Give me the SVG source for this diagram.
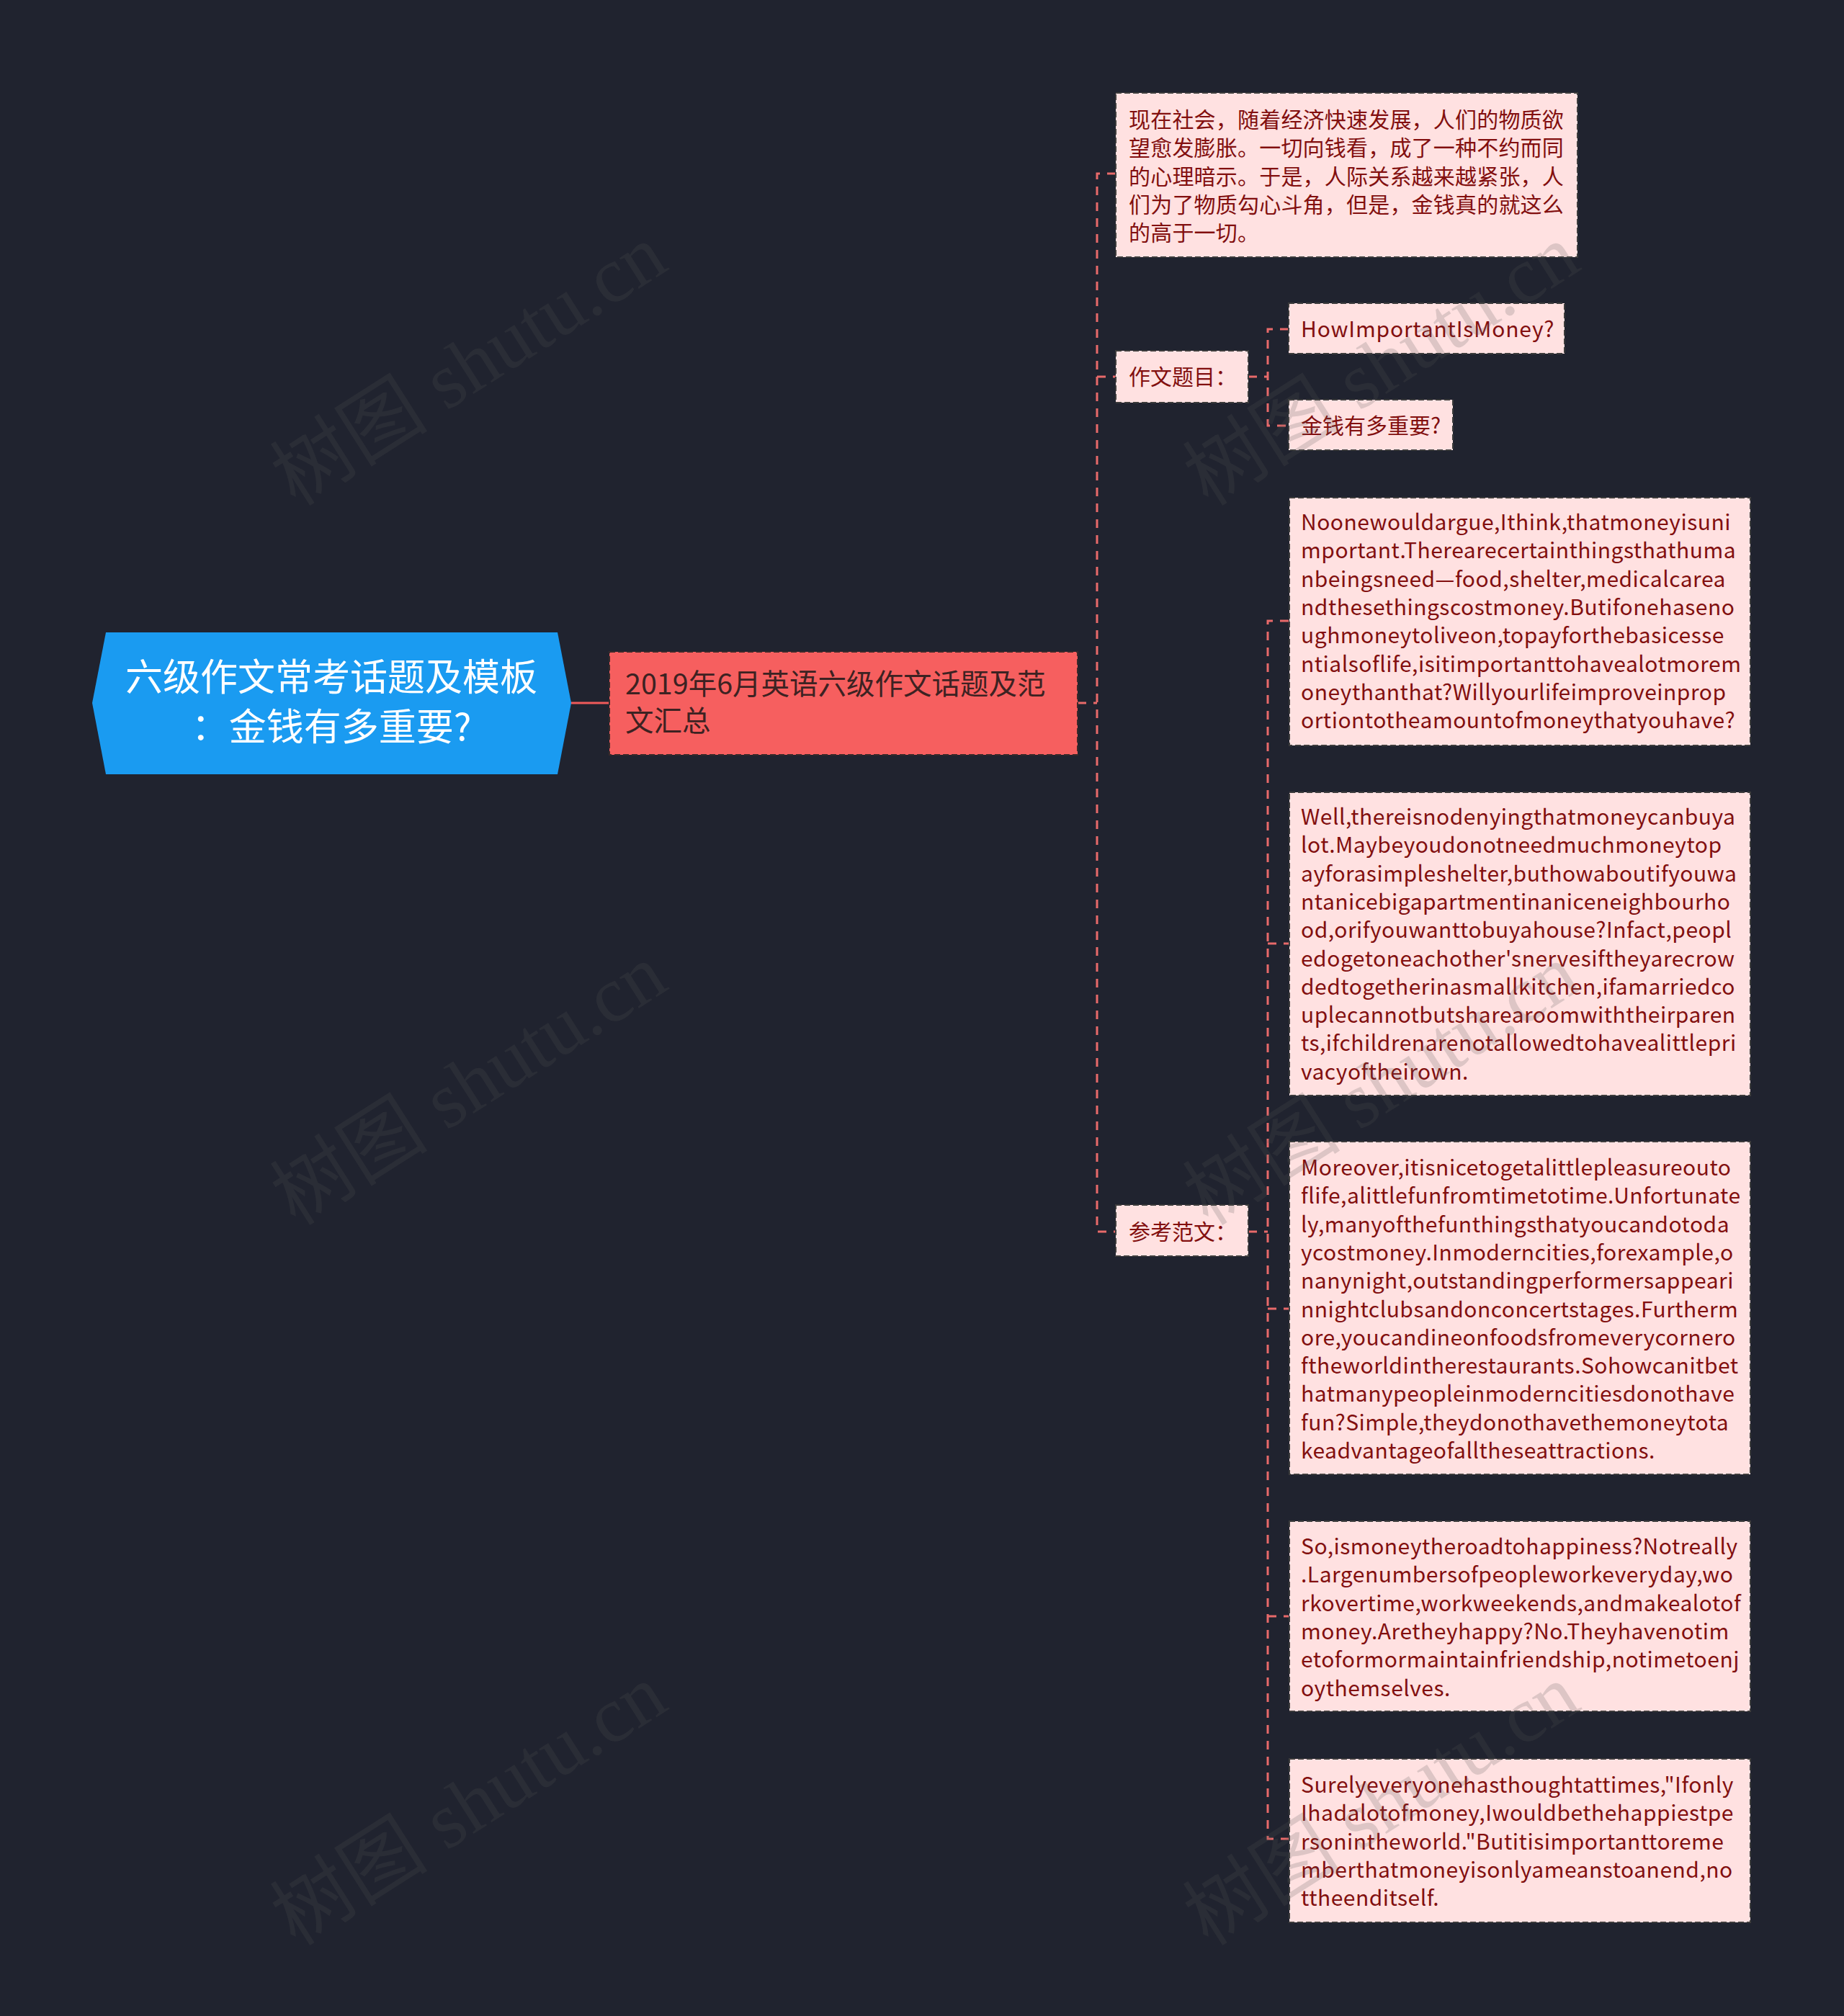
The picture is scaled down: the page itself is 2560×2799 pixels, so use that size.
<svg xmlns="http://www.w3.org/2000/svg" width="2560" height="2799" viewBox="0 0 2560 2799">
<style>
.bg{fill:#20232f}
.box{fill:#ffe1e1;stroke:#3c3c3c;stroke-width:2;stroke-dasharray:8 4}
.t{font-family:"Noto Sans CJK SC","Noto Sans",sans-serif;font-size:30px;fill:#820f0f}
.e{letter-spacing:0.5px}
.con{fill:none;stroke:#e86a6a;stroke-width:3;stroke-dasharray:12 10}
.wm{font-family:"Liberation Serif","Noto Sans CJK SC",serif;font-size:110px;fill:#555555;fill-opacity:0.2}
</style>
<rect class="bg" x="0" y="0" width="2560" height="2799"/>
<g id="connectors">
<line x1="793" y1="976" x2="846" y2="976" stroke="#f05a5a" stroke-width="3"/>
<path class="con" d="M1496,976 H1523"/>
<path class="con" d="M1549,241 H1523 V1710 H1549"/>
<path class="con" d="M1523,523 H1549"/>
<path class="con" d="M1733,523 H1760"/>
<path class="con" d="M1789,457 H1760 V591 H1789"/>
<path class="con" d="M1733,1710 H1760"/>
<path class="con" d="M1789,862 H1760 V2553 H1789"/>
<path class="con" d="M1760,1310 H1789"/>
<path class="con" d="M1760,1817 H1789"/>
<path class="con" d="M1760,2244 H1789"/>
</g>
<g id="root">
<polygon points="128,976 147,878 774,878 793,976 774,1075 147,1075" fill="#1a9bf1"/>
<text font-family="Noto Sans CJK SC,sans-serif" font-size="52" fill="#ffffff" text-anchor="middle"><tspan x="460" y="959">六级作文常考话题及模板</tspan><tspan x="460" y="1028">：金钱有多重要?</tspan></text>
</g>
<g id="n1">
<rect x="846" y="905" width="650" height="143" fill="#f65f5f" stroke="#3a2a2a" stroke-width="2" stroke-dasharray="8 4"/>
<text font-family="Noto Sans CJK SC,sans-serif" font-size="39.5" fill="#3d2222"><tspan x="868" y="964">2019年6月英语六级作文话题及范</tspan><tspan x="868" y="1015">文汇总</tspan></text>
</g>
<g id="n2">
<rect class="box" x="1549" y="129" width="641" height="228"/>
<text class="t" letter-spacing="0.2"><tspan x="1567" y="177">现在社会，随着经济快速发展，人们的物质欲</tspan><tspan x="1567" dy="39.3">望愈发膨胀。一切向钱看，成了一种不约而同</tspan><tspan x="1567" dy="39.3">的心理暗示。于是，人际关系越来越紧张，人</tspan><tspan x="1567" dy="39.3">们为了物质勾心斗角，但是，金钱真的就这么</tspan><tspan x="1567" dy="39.3">的高于一切。</tspan></text>
</g>
<g id="n3">
<rect class="box" x="1549" y="487" width="184" height="72"/>
<text class="t" x="1567" y="534">作文题目：</text>
</g>
<g id="n4">
<rect class="box" x="1789" y="421" width="383" height="70"/>
<text class="t" x="1806" y="468" letter-spacing="0.8">HowImportantIsMoney?</text>
</g>
<g id="n5">
<rect class="box" x="1789" y="555" width="228" height="70"/>
<text class="t" x="1806" y="602">金钱有多重要?</text>
</g>
<g id="n6">
<rect class="box" x="1549" y="1673" width="184" height="71"/>
<text class="t" x="1567" y="1721">参考范文：</text>
</g>
<g id="n7">
<rect class="box" x="1790" y="691" width="640" height="344"/>
<text class="t e"><tspan x="1806" y="736">Noonewouldargue,Ithink,thatmoneyisuni</tspan><tspan x="1806" dy="39.3">mportant.Therearecertainthingsthathuma</tspan><tspan x="1806" dy="39.3">nbeingsneed—food,shelter,medicalcarea</tspan><tspan x="1806" dy="39.3">ndthesethingscostmoney.Butifonehaseno</tspan><tspan x="1806" dy="39.3">ughmoneytoliveon,topayforthebasicesse</tspan><tspan x="1806" dy="39.3">ntialsoflife,isitimportanttohavealotmorem</tspan><tspan x="1806" dy="39.3">oneythanthat?Willyourlifeimproveinprop</tspan><tspan x="1806" dy="39.3">ortiontotheamountofmoneythatyouhave?</tspan></text>
</g>
<g id="n8">
<rect class="box" x="1790" y="1100" width="640" height="421"/>
<text class="t e"><tspan x="1806" y="1145">Well,thereisnodenyingthatmoneycanbuya</tspan><tspan x="1806" dy="39.3">lot.Maybeyoudonotneedmuchmoneytop</tspan><tspan x="1806" dy="39.3">ayforasimpleshelter,buthowaboutifyouwa</tspan><tspan x="1806" dy="39.3">ntanicebigapartmentinaniceneighbourho</tspan><tspan x="1806" dy="39.3">od,orifyouwanttobuyahouse?Infact,peopl</tspan><tspan x="1806" dy="39.3">edogetoneachother'snervesiftheyarecrow</tspan><tspan x="1806" dy="39.3">dedtogetherinasmallkitchen,ifamarriedco</tspan><tspan x="1806" dy="39.3">uplecannotbutsharearoomwiththeirparen</tspan><tspan x="1806" dy="39.3">ts,ifchildrenarenotallowedtohavealittlepri</tspan><tspan x="1806" dy="39.3">vacyoftheirown.</tspan></text>
</g>
<g id="n9">
<rect class="box" x="1790" y="1585" width="640" height="462"/>
<text class="t e"><tspan x="1806" y="1632">Moreover,itisnicetogetalittlepleasureouto</tspan><tspan x="1806" dy="39.3">flife,alittlefunfromtimetotime.Unfortunate</tspan><tspan x="1806" dy="39.3">ly,manyofthefunthingsthatyoucandotoda</tspan><tspan x="1806" dy="39.3">ycostmoney.Inmoderncities,forexample,o</tspan><tspan x="1806" dy="39.3">nanynight,outstandingperformersappeari</tspan><tspan x="1806" dy="39.3">nnightclubsandonconcertstages.Furtherm</tspan><tspan x="1806" dy="39.3">ore,youcandineonfoodsfromeverycornero</tspan><tspan x="1806" dy="39.3">ftheworldintherestaurants.Sohowcanitbet</tspan><tspan x="1806" dy="39.3">hatmanypeopleinmoderncitiesdonothave</tspan><tspan x="1806" dy="39.3">fun?Simple,theydonothavethemoneytota</tspan><tspan x="1806" dy="39.3">keadvantageofalltheseattractions.</tspan></text>
</g>
<g id="n10">
<rect class="box" x="1790" y="2112" width="640" height="264"/>
<text class="t e"><tspan x="1806" y="2158">So,ismoneytheroadtohappiness?Notreally</tspan><tspan x="1806" dy="39.3">.Largenumbersofpeopleworkeveryday,wo</tspan><tspan x="1806" dy="39.3">rkovertime,workweekends,andmakealotof</tspan><tspan x="1806" dy="39.3">money.Aretheyhappy?No.Theyhavenotim</tspan><tspan x="1806" dy="39.3">etoformormaintainfriendship,notimetoenj</tspan><tspan x="1806" dy="39.3">oythemselves.</tspan></text>
</g>
<g id="n11">
<rect class="box" x="1790" y="2442" width="640" height="227"/>
<text class="t e"><tspan x="1806" y="2489">Surelyeveryonehasthoughtattimes,"Ifonly</tspan><tspan x="1806" dy="39.3">Ihadalotofmoney,Iwouldbethehappiestpe</tspan><tspan x="1806" dy="39.3">rsonintheworld."Butitisimportanttoreme</tspan><tspan x="1806" dy="39.3">mberthatmoneyisonlyameanstoanend,no</tspan><tspan x="1806" dy="39.3">ttheenditself.</tspan></text>
</g>
<g id="watermarks">
<text class="wm" text-anchor="middle" transform="translate(652,509) rotate(-32.5)" y="35">树图 shutu.cn</text>
<text class="wm" text-anchor="middle" transform="translate(652,1508) rotate(-32.5)" y="35">树图 shutu.cn</text>
<text class="wm" text-anchor="middle" transform="translate(652,2508) rotate(-32.5)" y="35">树图 shutu.cn</text>
<text class="wm" text-anchor="middle" transform="translate(1919,509) rotate(-32.5)" y="35">树图 shutu.cn</text>
<text class="wm" text-anchor="middle" transform="translate(1919,1508) rotate(-32.5)" y="35">树图 shutu.cn</text>
<text class="wm" text-anchor="middle" transform="translate(1919,2508) rotate(-32.5)" y="35">树图 shutu.cn</text>
</g>
</svg>
